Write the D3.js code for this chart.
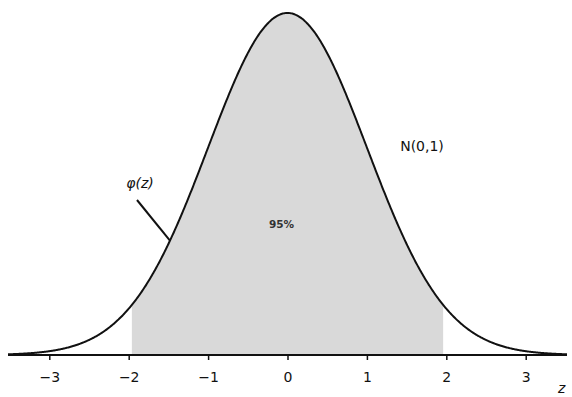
<!DOCTYPE html>
<html>
<head>
<meta charset="utf-8">
<script src="https://cdn.jsdelivr.net/npm/d3@7"></script>
<style>
  body { margin: 0; background: #fff; }
  svg { display: block; font-family: "DejaVu Sans", sans-serif; }
</style>
</head>
<body>
<svg id="chart" width="572" height="397"></svg>
<script>
// Standard normal density N(0,1) with the central 95% region shaded
const xTicks = [-3, -2, -1, 0, 1, 2, 3];
const tickLabels = ["\u22123", "\u22122", "\u22121", "0", "1", "2", "3"];
const zDomain = [-3.52, 3.52];
const shadeBounds = [-1.96, 1.96];
const shadeLabel = "95%";
const curveLabel = "N(0,1)";
const densityLabel = "\u03c6(z)";
const axisLabel = "z";
const densityLabelAt = -1.48;   // z where the φ(z) pointer touches the curve

const svg = d3.select("#chart");
const x = d3.scaleLinear().domain(zDomain).range([8, 567]);
const y = d3.scaleLinear().domain([0, 0.3989]).range([355, 13]);

const pdf = z => Math.exp(-z * z / 2) / Math.sqrt(2 * Math.PI);
const samples = d3.range(zDomain[0], zDomain[1] + 1e-9, 0.01).map(z => [z, pdf(z)]);
const shadeSamples = d3.range(shadeBounds[0], shadeBounds[1] + 1e-9, 0.01).map(z => [z, pdf(z)]);

// shaded area
svg.append("path")
  .datum(shadeSamples)
  .attr("fill", "#d9d9d9")
  .attr("d", d3.area().x(d => x(d[0])).y0(y(0)).y1(d => y(d[1])));

// density curve
svg.append("path")
  .datum(samples)
  .attr("fill", "none")
  .attr("stroke", "#111")
  .attr("stroke-width", 2)
  .attr("d", d3.line().x(d => x(d[0])).y(d => y(d[1])).curve(d3.curveBasis));

// axis
const axis = svg.append("g")
  .attr("transform", `translate(0,${y(0)})`)
  .call(d3.axisBottom(x).tickValues(xTicks).tickFormat((d, i) => tickLabels[i]).tickSize(5).tickPadding(12));
axis.select(".domain").attr("d", `M${x(zDomain[0])},0H${x(zDomain[1])}`).attr("stroke", "#111").attr("stroke-width", 2);
axis.selectAll(".tick line").attr("stroke", "#111").attr("stroke-width", 1.5);
axis.selectAll(".tick text")
  .attr("font-size", 14)
  .attr("font-family", "\"DejaVu Sans\", sans-serif")
  .attr("fill", "#111");

// axis variable
svg.append("text")
  .attr("x", 558).attr("y", 393)
  .attr("font-size", 14).attr("font-style", "italic").attr("fill", "#111")
  .text(axisLabel);

// labels
svg.append("text")
  .attr("x", x(0) - 6).attr("y", 228)
  .attr("text-anchor", "middle")
  .attr("font-size", 10.5).attr("font-weight", "bold").attr("fill", "#333")
  .text(shadeLabel);

svg.append("text")
  .attr("x", 422).attr("y", 151)
  .attr("text-anchor", "middle")
  .attr("font-size", 14).attr("fill", "#111")
  .text(curveLabel);

svg.append("text")
  .attr("x", 140).attr("y", 188)
  .attr("text-anchor", "middle")
  .attr("font-size", 14).attr("font-style", "italic").attr("fill", "#111")
  .text(densityLabel);

svg.append("line")
  .attr("x1", 137).attr("y1", 200)
  .attr("x2", x(densityLabelAt)).attr("y2", y(pdf(densityLabelAt)))
  .attr("stroke", "#111").attr("stroke-width", 2);
</script>
</body>
</html>
